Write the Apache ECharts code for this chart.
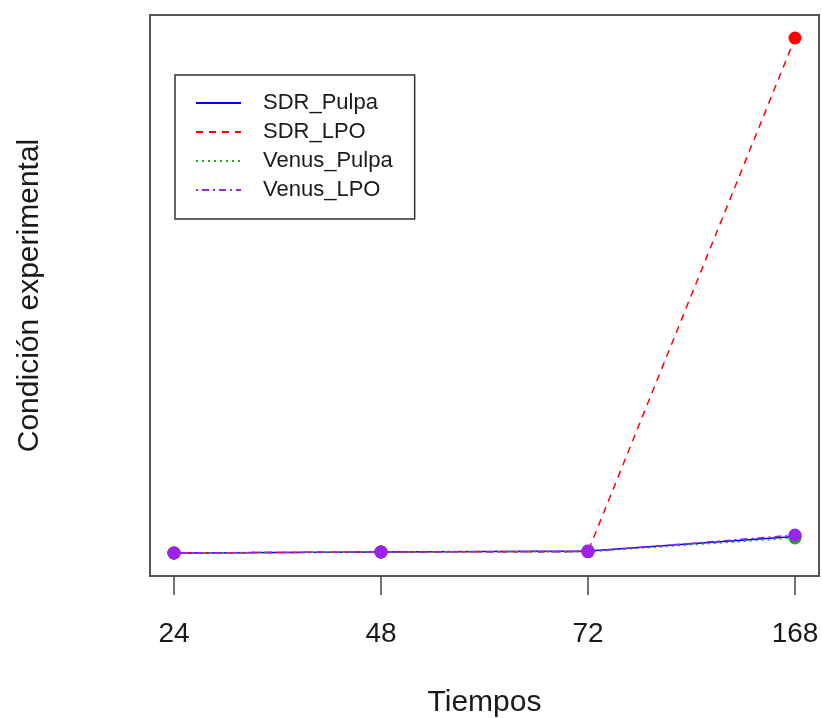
<!DOCTYPE html>
<html>
<head>
<meta charset="utf-8">
<script src="https://cdn.jsdelivr.net/npm/echarts@6/dist/echarts.min.js"></script>
<style>
  html, body { margin: 0; padding: 0; background: #fff; }
  #chart { width: 822px; height: 718px; }
</style>
</head>
<body>
<div id="chart"></div>
<script>
const xLabels = ['24', '48', '72', '168']
const sdrPulpa = [1.15, 1.2, 1.25, 1.98]
const sdrLpo = [1.15, 1.2, 1.22, 26.9]
const venusPulpa = [1.15, 1.2, 1.22, 1.9]
const venusLpo = [1.15, 1.2, 1.22, 2.05]

const SERIES = [
  { name: 'SDR_Pulpa', data: sdrPulpa, color: '#0000ff', type: 'solid' },
  { name: 'SDR_LPO', data: sdrLpo, color: '#ff0000', type: [7, 6] },
  { name: 'Venus_Pulpa', data: venusPulpa, color: '#1fa81f', type: [2, 4] },
  { name: 'Venus_LPO', data: venusLpo, color: '#a020f0', type: [2, 4, 7, 4] },
]

const chart = echarts.init(document.getElementById('chart'), null, { renderer: 'canvas' })
const font = 'Liberation Sans, Arial, sans-serif'
const idx = [0, 1, 2, 3]

const option = {
  animation: false,
  backgroundColor: '#ffffff',
  grid: {
    left: 150, right: 3, top: 15, bottom: 142,
    outerBoundsMode: 'none',
    show: true, borderColor: '#555', borderWidth: 2,
  },
  legend: {
    orient: 'vertical',
    left: 175, top: 75,
    padding: [17, 22, 18, 20],
    itemWidth: 45, itemHeight: 14, itemGap: 7,
    borderColor: '#333', borderWidth: 1.5,
    itemStyle: { opacity: 0 },
    textStyle: { fontFamily: font, fontSize: 22, color: '#1a1a1a', lineHeight: 22, padding: [0, 0, 0, 17] },
    data: SERIES.map(s => s.name),
  },
  xAxis: {
    type: 'value',
    min: -0.116, max: 3.116,
    name: 'Tiempos',
    nameLocation: 'middle',
    nameGap: 112,
    nameTextStyle: { fontFamily: font, fontSize: 30, color: '#1a1a1a' },
    axisLine: { show: false },
    splitLine: { show: false },
    axisTick: { show: true, length: 19, customValues: idx, lineStyle: { color: '#444', width: 1.5 } },
    axisLabel: {
      customValues: idx, margin: 44,
      fontFamily: font, fontSize: 28, color: '#1a1a1a',
      formatter: v => xLabels[Math.round(v)],
    },
  },
  yAxis: {
    type: 'value',
    min: 0, max: 28.05,
    name: 'Condición experimental',
    nameLocation: 'middle',
    nameRotate: 90,
    nameGap: 105,
    nameTextStyle: { fontFamily: font, fontSize: 30, color: '#1a1a1a' },
    axisLine: { show: false },
    axisTick: { show: false },
    axisLabel: { show: false },
    splitLine: { show: false },
  },
  series: SERIES.map(s => ({
    name: s.name,
    type: 'line',
    data: s.data.map((v, i) => [i, v]),
    symbol: 'circle',
    symbolSize: 13,
    itemStyle: { color: s.color },
    lineStyle: { color: s.color, width: 1.5, type: s.type },
  })),
}

chart.setOption(option)
</script>
</body>
</html>
